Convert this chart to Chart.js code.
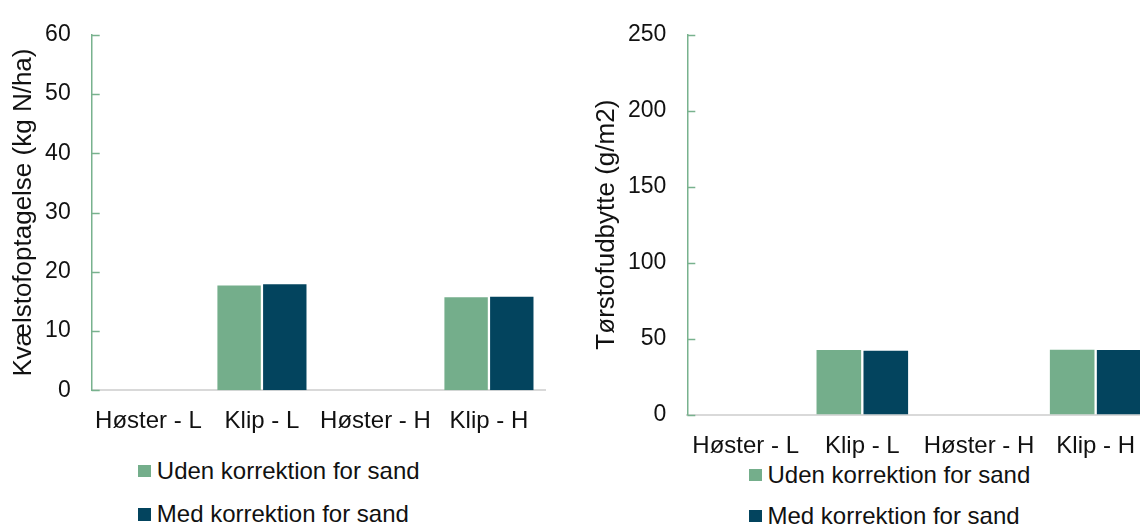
<!DOCTYPE html>
<html>
<head>
<meta charset="utf-8">
<script src="https://cdn.jsdelivr.net/npm/chart.js@4"></script>
<style>
  html, body { margin: 0; padding: 0; background: #fff; overflow: hidden; width: 1140px; height: 524px; }
  .panel { position: absolute; top: 0; }
  .legend-row { position: absolute; height: 26px; line-height: 26px; white-space: nowrap;
    font-family: "Liberation Sans", Arial, sans-serif; font-size: 24px; color: #111; }
  .legend-row span.box { position: absolute; left: 0; top: 7px; width: 12.5px; height: 12.5px; }
  .legend-row span.txt { position: absolute; left: 18.5px; top: 0; }
</style>
</head>
<body>
<div class="panel" style="left:0;width:560px;height:524px;">
  <canvas id="nitrogenChart" width="560" height="450"></canvas>
</div>
<div class="panel" style="left:580px;width:600px;height:524px;">
  <canvas id="yieldChart" width="600" height="460"></canvas>
</div>
<div id="legends"></div>
<script>
var categories = ['Høster - L', 'Klip - L', 'Høster - H', 'Klip - H'];
var seriesNames = ['Uden korrektion for sand', 'Med korrektion for sand'];

// kvælstofoptagelse, kg N/ha
var nitrogenUden = [0, 17.7, 0, 15.7];
var nitrogenMed = [0, 17.9, 0, 15.8];
var nitrogenMax = 60;
var nitrogenStep = 10;

// tørstofudbytte, g/m2
var yieldUden = [0, 42.5, 0, 42.6];
var yieldMed = [0, 41.9, 0, 42.4];
var yieldMax = 250;
var yieldStep = 50;

var colors = ['#74ae8b', '#03445e'];
var axisGreen = '#78b28e';
var textColor = '#111';
var fontFamily = '"Liberation Sans", Arial, sans-serif';

// small inward tick marks on the y axis
var innerTicks = {
  id: 'innerTicks',
  afterDraw: function(chart) {
    var y = chart.scales.y;
    var ctx = chart.ctx;
    ctx.save();
    ctx.strokeStyle = axisGreen;
    ctx.lineWidth = 1.5;
    y.ticks.forEach(function(t) {
      var py = Math.round(y.getPixelForValue(t.value)) + 0.5;
      ctx.beginPath();
      ctx.moveTo(y.right, py);
      ctx.lineTo(y.right + 8, py);
      ctx.stroke();
    });
    ctx.restore();
  }
};

function makeChart(id, uden, med, max, step, title, box) {
  return new Chart(document.getElementById(id), {
    type: 'bar',
    data: {
      labels: categories,
      datasets: [
        { label: seriesNames[0], data: uden, backgroundColor: colors[0] },
        { label: seriesNames[1], data: med, backgroundColor: colors[1] }
      ]
    },
    options: {
      responsive: false,
      animation: false,
      layout: { padding: { left: 0, top: box.top, right: box.right, bottom: 0 } },
      datasets: { bar: { categoryPercentage: 0.805, barPercentage: 0.95, borderWidth: 0 } },
      plugins: { legend: { display: false }, tooltip: { enabled: false } },
      scales: {
        x: {
          grid: { display: false },
          border: { display: true, color: '#d9d9d9', width: 2 },
          ticks: { color: textColor, padding: 9, maxRotation: 0, autoSkip: false,
                   font: { family: fontFamily, size: 24 } },
          afterFit: function(scale) { scale.height = box.xHeight; }
        },
        y: {
          min: 0,
          max: max,
          grid: { display: false, drawTicks: false },
          border: { display: true, color: axisGreen, width: 1.5 },
          ticks: { stepSize: step, color: textColor, padding: 21,
                   font: { family: fontFamily, size: 23 } },
          title: { display: true, text: title, color: textColor,
                   padding: { top: box.titlePad, bottom: 0 },
                   font: { family: fontFamily, size: 26 } },
          afterFit: function(scale) { scale.width = box.yWidth; }
        }
      }
    },
    plugins: [innerTicks]
  });
}

makeChart('nitrogenChart', nitrogenUden, nitrogenMed, nitrogenMax, nitrogenStep,
  'Kvælstofoptagelse (kg N/ha)',
  { top: 24, right: 14.3, xHeight: 59.7, yWidth: 91.7, titlePad: 8.4 });

makeChart('yieldChart', yieldUden, yieldMed, yieldMax, yieldStep,
  'Tørstofudbytte (g/m2)',
  { top: 34, right: 26, xHeight: 45.5, yWidth: 107.3, titlePad: 11.4 });

// legends stacked under each panel
function addLegend(left, rowTops) {
  var holder = document.getElementById('legends');
  seriesNames.forEach(function(name, i) {
    var row = document.createElement('div');
    row.className = 'legend-row';
    row.style.left = left + 'px';
    row.style.top = rowTops[i] + 'px';
    row.innerHTML = '<span class="box" style="background:' + colors[i] + '"></span>' +
                    '<span class="txt">' + name + '</span>';
    holder.appendChild(row);
  });
}
addLegend(138.3, [457.5, 501]);
addLegend(749, [461.5, 502.5]);
</script>
</body>
</html>
